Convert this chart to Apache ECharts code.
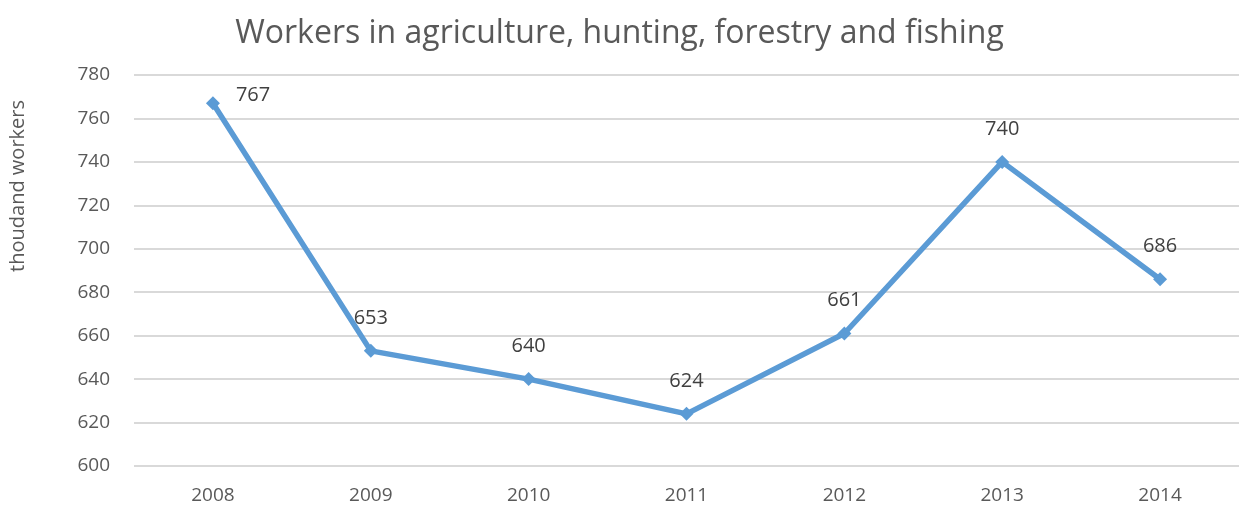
<!DOCTYPE html>
<html>
<head>
<meta charset="utf-8">
<script src="https://cdn.jsdelivr.net/npm/echarts@6/dist/echarts.min.js"></script>
<style>html,body{margin:0;padding:0;background:#fff;}#c{width:1239px;height:506px;}</style>
</head>
<body>
<div id="c"></div>
<script>
const categories = ['2008','2009','2010','2011','2012','2013','2014'];
const values = [767, 653, 640, 624, 661, 740, 686];
const titleText = 'Workers in agriculture, hunting, forestry and fishing';
const yAxisTitle = 'thoudand workers';

const font = '"Open Sans", "Noto Sans", sans-serif';
const chart = echarts.init(document.getElementById('c'));
chart.setOption({
  animation: false,
  backgroundColor: '#ffffff',
  title: {
    text: titleText,
    left: 'center',
    top: 13,
    textStyle: {fontFamily: font, fontSize: 32, fontWeight: 'normal', color: '#595959'}
  },
  graphic: [{
    type: 'text',
    left: 8,
    top: 100,
    rotation: Math.PI / 2,
    style: {text: yAxisTitle, fontFamily: font, fontSize: 20, fill: '#595959'}
  }],
  grid: {left: 134, width: 1112, top: 75, bottom: 40, containLabel: false},
  xAxis: {
    type: 'category',
    data: categories,
    boundaryGap: true,
    axisLine: {show: false},
    axisTick: {show: false},
    axisLabel: {fontFamily: font, fontSize: 19, color: '#595959', margin: 20}
  },
  yAxis: {
    type: 'value',
    min: 600, max: 780, interval: 20,
    axisLine: {show: false},
    axisTick: {show: false},
    axisLabel: {fontFamily: font, fontSize: 19, color: '#595959', margin: 24},
    splitLine: {lineStyle: {color: '#d9d9d9', width: 2}}
  },
  series: [{
    type: 'line',
    data: values.map((v, i) => i === 0 ? {value: v, label: {position: 'right', offset: [0, -8]}} : v),
    symbol: 'diamond',
    symbolSize: 14,
    lineStyle: {color: '#5B9BD5', width: 5.5},
    itemStyle: {color: '#5B9BD5'},
    label: {show: true, position: 'top', distance: 16, fontFamily: font, fontSize: 20, color: '#404040'}
  }]
});
</script>
</body>
</html>
